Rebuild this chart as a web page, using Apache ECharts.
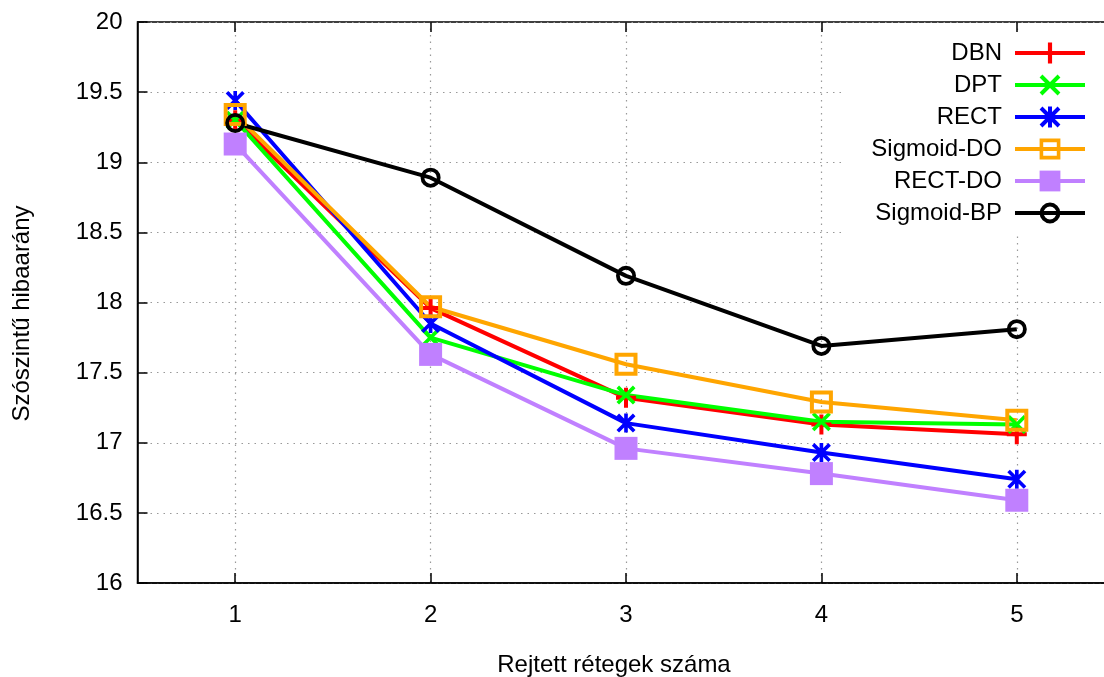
<!DOCTYPE html>
<html>
<head>
<meta charset="utf-8">
<script src="https://cdn.jsdelivr.net/npm/echarts@6/dist/echarts.min.js"></script>
<style>
  html, body { margin: 0; padding: 0; background: #fff; }
  #chart { width: 1104px; height: 677px; }
</style>
</head>
<body>
<div id="chart"></div>
<script>
// rejtett rétegek száma
var categories = ['1', '2', '3', '4', '5']
// szószintű hibaarány
var dbn = [19.30, 17.96, 17.32, 17.13, 17.06]
var dpt = [19.30, 17.75, 17.34, 17.15, 17.13]
var rect = [19.44, 17.85, 17.14, 16.93, 16.74]
var sigmoidDo = [19.34, 17.97, 17.56, 17.29, 17.16]
var rectDo = [19.13, 17.63, 16.96, 16.78, 16.59]
var sigmoidBp = [19.28, 18.89, 18.19, 17.69, 17.81]
var yTicks = { min: 16, max: 20, step: 0.5 }

var FONT = '"Liberation Sans", Arial, sans-serif'

// gnuplot jellegű pontjelek
var plusPath = 'path://M-2,-10L2,-10L2,10L-2,10Z M-10,-2L10,-2L10,2L-10,2Z'
var crossPath = 'path://M-7.59,-10.41L10.41,7.59L7.59,10.41L-10.41,-7.59Z M10.41,-7.59L-7.59,10.41L-10.41,7.59L7.59,-10.41Z'
var starPath = 'path://M-7.59,-10.41L10.41,7.59L7.59,10.41L-10.41,-7.59Z M10.41,-7.59L-7.59,10.41L-10.41,7.59L7.59,-10.41Z M-2,-10.41L2,-10.41L2,10.41L-2,10.41Z'
// üres négyzet és kör (átlátszó belsővel)
var boxPath = 'path://M-11.5,-11.5L11.5,-11.5L11.5,11.5L-11.5,11.5Z M-7.5,-7.5L-7.5,7.5L7.5,7.5L7.5,-7.5Z'
var ringPath = 'path://M-10,0A10,10,0,1,1,10,0A10,10,0,1,1,-10,0Z M-6.2,0A6.2,6.2,0,1,0,6.2,0A6.2,6.2,0,1,0,-6.2,0Z'

function makeSeries(name, data, color, symbol, size) {
  return {
    name: name,
    type: 'line',
    data: data,
    symbol: symbol,
    symbolSize: size,
    showAllSymbol: true,
    lineStyle: { color: color, width: 4 },
    itemStyle: { color: color, borderWidth: 0 },
    emphasis: { disabled: true },
    animation: false
  }
}

var chart = echarts.init(document.getElementById('chart'))
chart.setOption({
  backgroundColor: '#fff',
  animation: false,
  textStyle: { fontFamily: FONT },
  grid: {
    left: 137.5,
    top: 22,
    width: 977,
    height: 561,
    outerBoundsMode: 'none',
    containLabel: false,
    show: true,
    borderColor: '#000',
    borderWidth: 1.5,
    backgroundColor: 'transparent'
  },
  legend: {
    orient: 'vertical',
    right: 1,
    top: 35,
    align: 'right',
    itemWidth: 70,
    itemHeight: 26,
    itemGap: 8,
    padding: [6, 16, 8, 30],
    backgroundColor: '#fff',
    lineStyle: { width: 4 },
    textStyle: { fontSize: 24, color: '#000', fontFamily: FONT, padding: [0, 8, 0, 0] },
    data: ['DBN', 'DPT', 'RECT', 'Sigmoid-DO', 'RECT-DO', 'Sigmoid-BP']
  },
  xAxis: [{
    type: 'category',
    data: categories,
    boundaryGap: true,
    name: 'Rejtett rétegek száma',
    nameLocation: 'middle',
    nameGap: 70,
    nameTextStyle: { fontSize: 24, color: '#000', fontFamily: FONT, padding: [0, 24, 0, 0] },
    axisLine: { show: true, lineStyle: { color: '#000', width: 1.5 } },
    axisTick: { show: true, inside: true, alignWithLabel: true, length: 10, lineStyle: { color: '#000', width: 1.5 } },
    axisLabel: { fontSize: 24, color: '#000', margin: 20, fontFamily: FONT },
    splitLine: { show: true, alignWithLabel: true, lineStyle: { color: '#999', width: 1.2, type: [1.5, 5] } }
  }, {
    type: 'category',
    data: categories,
    position: 'top',
    boundaryGap: true,
    axisLine: { show: false },
    axisTick: { show: true, inside: true, alignWithLabel: true, length: 10, lineStyle: { color: '#000', width: 1.5 } },
    axisLabel: { show: false },
    splitLine: { show: false }
  }],
  yAxis: {
    type: 'value',
    min: yTicks.min,
    max: yTicks.max,
    interval: yTicks.step,
    name: 'Szószintű hibaarány',
    nameLocation: 'middle',
    nameGap: 103,
    nameRotate: 90,
    nameTextStyle: { fontSize: 24, color: '#000', fontFamily: FONT, padding: [0, 22, 0, 0] },
    axisLine: { show: true, lineStyle: { color: '#000', width: 1.5 } },
    axisTick: { show: true, inside: true, length: 10, lineStyle: { color: '#000', width: 1.5 } },
    axisLabel: { fontSize: 24, color: '#000', margin: 15, fontFamily: FONT },
    splitLine: { show: true, lineStyle: { color: '#999', width: 1.2, type: [1.5, 5] } }
  },
  series: [
    makeSeries('DBN', dbn, '#ff0000', plusPath, 20),
    makeSeries('DPT', dpt, '#00ff00', crossPath, 19),
    makeSeries('RECT', rect, '#0000ff', starPath, 19),
    makeSeries('Sigmoid-DO', sigmoidDo, '#ffa500', boxPath, 23),
    makeSeries('RECT-DO', rectDo, '#c080ff', 'rect', 23),
    makeSeries('Sigmoid-BP', sigmoidBp, '#000000', ringPath, 20)
  ]
})
</script>
</body>
</html>
